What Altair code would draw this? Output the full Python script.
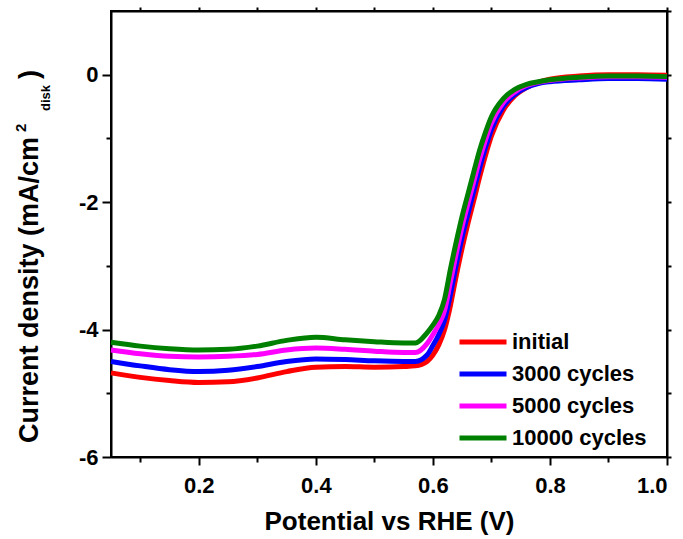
import altair as alt
import pandas as pd

# ---------------- data ----------------
potential = [0.05, 0.10, 0.15, 0.20, 0.25, 0.30, 0.35, 0.40, 0.45, 0.50, 0.55, 0.57,
             0.59, 0.60, 0.61, 0.62, 0.63, 0.64, 0.65, 0.66, 0.67, 0.68, 0.69, 0.70,
             0.72, 0.74, 0.76, 0.78, 0.80, 0.85, 0.90, 0.95, 1.00]

initial = [-4.68, -4.75, -4.80, -4.83, -4.82, -4.76, -4.66, -4.59, -4.58, -4.59, -4.58, -4.57,
           -4.50, -4.40, -4.24, -4.00, -3.62, -3.15, -2.72, -2.33, -1.97, -1.60, -1.26, -0.96,
           -0.56, -0.33, -0.20, -0.12, -0.07, -0.02, 0.00, 0.00, -0.01]

cycles_3000 = [-4.50, -4.57, -4.63, -4.66, -4.64, -4.58, -4.50, -4.46, -4.47, -4.49, -4.50, -4.50,
               -4.40, -4.25, -4.08, -3.85, -3.45, -2.98, -2.55, -2.18, -1.82, -1.46, -1.14, -0.86,
               -0.50, -0.31, -0.20, -0.14, -0.11, -0.08, -0.06, -0.06, -0.07]

cycles_5000 = [-4.32, -4.38, -4.42, -4.43, -4.42, -4.39, -4.32, -4.29, -4.31, -4.34, -4.36, -4.36,
               -4.22, -4.08, -3.92, -3.70, -3.25, -2.80, -2.38, -2.02, -1.67, -1.32, -1.02, -0.76,
               -0.44, -0.27, -0.17, -0.12, -0.09, -0.05, -0.03, -0.03, -0.04]

cycles_10000 = [-4.20, -4.26, -4.30, -4.32, -4.31, -4.26, -4.17, -4.12, -4.16, -4.19, -4.21, -4.21,
                -4.05, -3.93, -3.78, -3.52, -3.05, -2.62, -2.22, -1.87, -1.52, -1.18, -0.90, -0.66,
                -0.38, -0.23, -0.15, -0.11, -0.08, -0.04, -0.02, -0.02, -0.03]

series_names = ["initial", "3000 cycles", "5000 cycles", "10000 cycles"]
series_colors = ["#ff0000", "#0000ff", "#ff00ff", "#008000"]

x_ticks = [0.1, 0.2, 0.3, 0.4, 0.5, 0.6, 0.7, 0.8, 0.9, 1.0]
y_ticks = [-6, -5, -4, -3, -2, -1, 0]
y_ticks_right = [-6, -5, -4, -3, -2, -1, 0, 1]

x_title = "Potential vs RHE (V)"
y_title_main = "Current density (mA/cm"
y_title_sup = "2"
y_title_sub = "disk"
y_title_end = ")"

# ---------------- table ----------------
rows = []
for name, vals in zip(series_names, [initial, cycles_3000, cycles_5000, cycles_10000]):
    for xv, yv in zip(potential, vals):
        rows.append({"series": name, "potential": xv, "current": yv})
df = pd.DataFrame(rows)

FONT = "Liberation Sans"
x_scale = alt.Scale(domain=[0.05, 1.0], nice=False, zero=False)
y_scale = alt.Scale(domain=[-6, 1], nice=False, zero=False)

lines = alt.Chart(df).mark_line(strokeWidth=5, interpolate="monotone").encode(
    x=alt.X("potential:Q", scale=x_scale,
            axis=alt.Axis(orient="bottom", values=x_ticks, title=x_title,
                          labelExpr="round(datum.value*10) % 2 == 0 ? format(datum.value, '.1f') : ''",
                          tickSize=alt.condition("round(datum.value*10) % 2 == 0", alt.value(8), alt.value(5)),
                          labelPadding=10, titlePadding=12)),
    y=alt.Y("current:Q", scale=y_scale,
            axis=alt.Axis(orient="left", values=y_ticks, title=None,
                          labelExpr="round(datum.value) % 2 == 0 ? '' + round(datum.value) : ''",
                          tickSize=alt.condition("round(datum.value) % 2 == 0", alt.value(9), alt.value(5)),
                          labelPadding=4)),
    color=alt.Color("series:N",
                    scale=alt.Scale(domain=series_names, range=series_colors),
                    sort=series_names,
                    legend=alt.Legend(orient="none", legendX=346, legendY=315, title=None,
                                      symbolType="stroke", symbolSize=2209, symbolStrokeWidth=5,
                                      labelFont=FONT, labelFontWeight="bold", labelFontSize=22,
                                      labelColor="black", labelOffset=3, rowPadding=0,
                                      clipHeight=32, padding=0)),
)

frame_axes = alt.Chart(df).mark_point(opacity=0, size=1).encode(
    x=alt.X("potential:Q", scale=x_scale,
            axis=alt.Axis(orient="top", values=x_ticks, labels=False, tickSize=4, title=None)),
    y=alt.Y("current:Q", scale=y_scale,
            axis=alt.Axis(orient="right", values=y_ticks_right, labels=False, tickSize=4, title=None)),
)

dummy = pd.DataFrame({"k": [0]})
t_main = alt.Chart(dummy).mark_text(text=y_title_main, angle=270, align="left", baseline="alphabetic",
                                    font=FONT, fontWeight="bold", fontSize=27, color="black").encode(
    x=alt.value(-73), y=alt.value(432))
t_sup = alt.Chart(dummy).mark_text(text=y_title_sup, angle=270, align="left", baseline="alphabetic",
                                   font=FONT, fontWeight="bold", fontSize=15, color="black").encode(
    x=alt.value(-85), y=alt.value(121))
t_sub = alt.Chart(dummy).mark_text(text=y_title_sub, angle=270, align="left", baseline="alphabetic",
                                   font=FONT, fontWeight="bold", fontSize=13, color="black").encode(
    x=alt.value(-61), y=alt.value(100))
t_end = alt.Chart(dummy).mark_text(text=y_title_end, angle=270, align="left", baseline="alphabetic",
                                   font=FONT, fontWeight="bold", fontSize=27, color="black").encode(
    x=alt.value(-73), y=alt.value(68))

chart = alt.layer(lines, frame_axes, t_main, t_sup, t_sub, t_end).resolve_axis(
    x="independent", y="independent"
).properties(
    width=556, height=446,
    autosize=alt.AutoSizeParams(type="none"),
    padding={"left": 111, "top": 11, "right": 16, "bottom": 82},
    background="white",
).configure_view(
    stroke="black", strokeWidth=2
).configure_axis(
    labelFont=FONT, labelFontWeight="bold", labelFontSize=22, labelColor="black",
    titleFont=FONT, titleFontWeight="bold", titleFontSize=26, titleColor="black",
    domainColor="black", domainWidth=2, tickColor="black", tickWidth=2, grid=False,
)

chart.save("out.html", embed_options={"renderer": "svg", "actions": False})
